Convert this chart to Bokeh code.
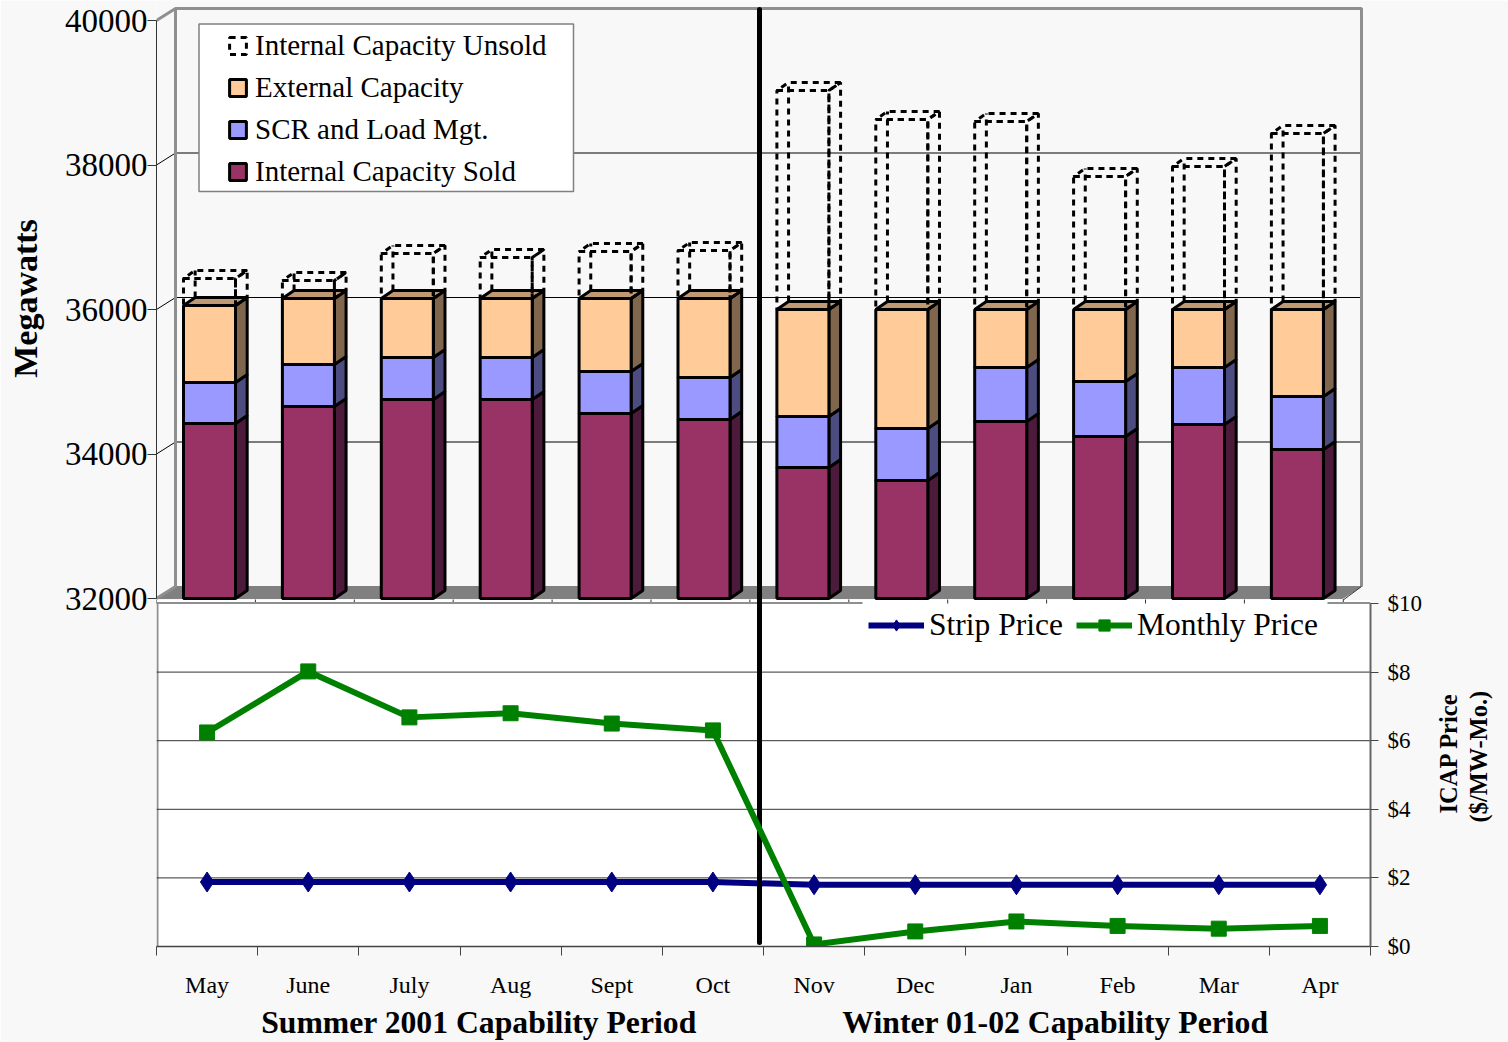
from math import pi

from bokeh.embed import file_html
from bokeh.resources import INLINE
from bokeh.plotting import figure
from bokeh.models import (BoxAnnotation, FixedTicker, Legend, LegendItem,
                          LinearAxis, Range1d)

# Monthly capacity, megawatts
months = ["May", "June", "July", "Aug", "Sept", "Oct", "Nov", "Dec", "Jan", "Feb", "Mar", "Apr"]
internal_sold = [34422, 34657, 34754, 34754, 34561, 34478, 33813, 33633, 34450, 34242, 34408, 34062]
scr_load_mgt = [567, 581, 581, 581, 581, 581, 706, 720, 747, 761, 789, 734]
external_cap = [1066, 913, 817, 817, 1010, 1093, 1481, 1647, 803, 997, 803, 1204]
internal_unsold = [374, 249, 623, 567, 651, 664, 3031, 2630, 2602, 1841, 1979, 2436]

# ICAP prices, $/MW-month
strip_price = [1.88, 1.88, 1.88, 1.88, 1.88, 1.88, 1.8, 1.8, 1.8, 1.8, 1.8, 1.8]
monthly_price = [6.24, 8.02, 6.68, 6.8, 6.5, 6.3, 0.06, 0.44, 0.73, 0.6, 0.52, 0.6]

mw_ticks = [32000, 34000, 36000, 38000, 40000]
price_ticks = [0, 2, 4, 6, 8, 10]

SERIF = "Liberation Serif"
PAGE = "#f8f8f8"
WALL = "#8f8f8f"
INK = "#000000"
LEFT, RIGHT, FLOOR = 156, 1370, 946


# Helpers converting canvas positions into the data units of each scale
def tx(px):
    return (px - 209) / 98.9


def ty(py):
    return 32000 + (598 - py) / 0.07225


def bx(px):
    return (px - LEFT) / ((RIGHT - LEFT) / 12)


def by(py):
    return (946 - py) / 34.3


# An axis with no line or tick marks, used to set bold text outside the frame
def text_axis(ticks_to_text, size, standoff, orientation=None, **axis_kw):
    axis = LinearAxis(ticker=FixedTicker(ticks=list(ticks_to_text)), **axis_kw)
    axis.major_label_overrides = dict(ticks_to_text)
    axis.axis_line_color = None
    axis.major_tick_line_color = None
    axis.minor_tick_line_color = None
    axis.major_tick_in = 0
    axis.major_tick_out = 0
    axis.minor_tick_in = 0
    axis.minor_tick_out = 0
    axis.major_label_standoff = standoff
    axis.major_label_text_font = SERIF
    axis.major_label_text_font_style = "bold"
    axis.major_label_text_font_size = size
    axis.major_label_text_color = INK
    if orientation is not None:
        axis.major_label_orientation = orientation
    return axis


p = figure(width=1508, height=1042, output_backend="svg", toolbar_location=None,
           x_range=Range1d(tx(LEFT), tx(RIGHT)), y_range=Range1d(ty(FLOOR), ty(0)),
           x_axis_type=None, y_axis_type=None,
           min_border_left=LEFT, min_border_right=1508 - RIGHT, min_border_top=0, min_border_bottom=1042 - FLOOR,
           background_fill_color=PAGE, border_fill_color=PAGE, outline_line_color=None)
p.grid.visible = False
p.extra_x_ranges["lower"] = Range1d(0, 12)
p.extra_y_ranges["price"] = Range1d(by(FLOOR), by(0))

left_axis = LinearAxis(ticker=FixedTicker(ticks=mw_ticks), bounds=(32000, 40000))
left_axis.axis_line_color = "#333333"
left_axis.major_tick_line_color = "#333333"
left_axis.major_tick_in = 0
left_axis.major_tick_out = 9
left_axis.minor_tick_line_color = None
left_axis.major_label_standoff = 0
left_axis.major_label_text_font = SERIF
left_axis.major_label_text_font_size = "33px"
left_axis.major_label_text_color = INK
left_axis.major_label_text_baseline = "middle"
p.add_layout(left_axis, "left")
p.add_layout(text_axis({ty(298): "Megawatts"}, "34px", 18, orientation="parallel"), "left")

# Walls and floor of the three-dimensional plot box
wall_dx = tx(175) - tx(156)
wall_dy = ty(586) - ty(598)
x0, x1 = tx(156), tx(1342)
p.patch([x0, x1, x1 + wall_dx, x0 + wall_dx], [32000, 32000, 32000 + wall_dy, 32000 + wall_dy],
        fill_color="#808080", line_color="#808080")
for m in mw_ticks[1:-1]:
    p.line([x0, x0 + wall_dx, x1 + wall_dx], [m, m + wall_dy, m + wall_dy], line_color=INK, line_width=1)
p.line([x0, x0 + wall_dx, x0 + wall_dx], [32000, 32000 + wall_dy, 40000 + wall_dy],
       line_color=WALL, line_width=3)
p.line([x0, x0 + wall_dx, x1 + wall_dx, x1 + wall_dx],
       [40000, 40000 + wall_dy, 40000 + wall_dy, 32000 + wall_dy], line_color=WALL, line_width=3)
p.line([x1, x1 + wall_dx], [ty(600), 32000 + wall_dy], line_color="#333333", line_width=1)

# White lower panel, with the band and tick marks that separate it from the columns
p.quad(left=tx(LEFT), right=tx(RIGHT), bottom=ty(FLOOR), top=ty(599.5), fill_color="#ffffff", line_color=None)
upper_ticks = [tx(LEFT + 98.9 * k) for k in range(13)]
p.segment(x0=upper_ticks, x1=upper_ticks, y0=ty(599), y1=ty(603), line_color="#333333", line_width=1)
p.line([tx(LEFT), tx(862)], [ty(602.5), ty(602.5)], line_color=WALL, line_width=2)
p.line([tx(1327), tx(RIGHT)], [ty(602.5), ty(602.5)], line_color=WALL, line_width=2)
p.line([tx(157), tx(157)], [ty(602), ty(FLOOR)], line_color=WALL, line_width=2)

# Stacked columns
half = 0.263
depth_x = 0.118
depth_y = ty(590) - ty(598)
edge = dict(line_color=INK, line_width=3)


def stack_faces(i, lo, hi):
    xl, xr = i - half, i + half
    side = ([xr, xr + depth_x, xr + depth_x, xr], [lo, lo + depth_y, hi + depth_y, hi])
    cap = ([xl, xr, xr + depth_x, xl + depth_x], [hi, hi, hi + depth_y, hi + depth_y])
    return xl, xr, side, cap


idx = list(range(len(months)))
bases = [32000] * len(months)
tops_sold = [v for v in internal_sold]
tops_scr = [a + b for a, b in zip(tops_sold, scr_load_mgt)]
tops_ext = [a + b for a, b in zip(tops_scr, external_cap)]
tops_unsold = [a + b for a, b in zip(tops_ext, internal_unsold)]

# Unsold capacity is outlined only, front and rear faces both visible
dash = dict(line_color=INK, line_width=3, line_dash="6 5")
rear_xs, rear_ys, side_xs, side_ys, cap_xs, cap_ys = [], [], [], [], [], []
for i, lo, hi in zip(idx, tops_ext, tops_unsold):
    xl, xr, side, cap = stack_faces(i, lo, hi)
    side_xs.append(side[0]); side_ys.append(side[1])
    cap_xs.append(cap[0]); cap_ys.append(cap[1])
    rear_xs.append([xl + depth_x, xl + depth_x]); rear_ys.append([lo + depth_y, hi + depth_y])
p.multi_line(rear_xs, rear_ys, **dash)

layers = [
    (bases, tops_sold, "#993366", "#4c1a3a"),
    (tops_sold, tops_scr, "#9999ff", "#4c4c80"),
    (tops_scr, tops_ext, "#ffcc99", "#80664c"),
]
front_renderers = []
for lows, highs, face, shade in layers:
    sides = [stack_faces(i, lo, hi)[2] for i, lo, hi in zip(idx, lows, highs)]
    p.patches([s[0] for s in sides], [s[1] for s in sides], fill_color=shade, **edge)
    r = p.quad(left=[i - half for i in idx], right=[i + half for i in idx], bottom=lows, top=highs,
               fill_color=face, **edge)
    front_renderers.append(r)
caps = [stack_faces(i, lo, hi)[3] for i, lo, hi in zip(idx, tops_scr, tops_ext)]
p.patches([c[0] for c in caps], [c[1] for c in caps], fill_color="#bf9973", **edge)

p.patches(side_xs, side_ys, fill_color=None, **dash)
p.patches(cap_xs, cap_ys, fill_color=None, **dash)
unsold_r = p.quad(left=[i - half for i in idx], right=[i + half for i in idx], bottom=tops_ext,
                  top=tops_unsold, fill_color=None, **dash)

# Boxed legend for the columns
p.add_layout(BoxAnnotation(left=tx(198.5), right=tx(573), top=ty(23.5), bottom=ty(191),
                           fill_color="#ffffff", fill_alpha=1, line_color="#808080", line_alpha=1,
                           line_width=1.5, level="annotation"))
top_legend = Legend(items=[LegendItem(label="Internal Capacity Unsold", renderers=[unsold_r]),
                           LegendItem(label="External Capacity", renderers=[front_renderers[2]]),
                           LegendItem(label="SCR and Load Mgt.", renderers=[front_renderers[1]]),
                           LegendItem(label="Internal Capacity Sold", renderers=[front_renderers[0]])],
                    location=(71, 758), margin=0, padding=6, spacing=9,
                    glyph_width=21, glyph_height=21, label_standoff=7,
                    label_text_font=SERIF, label_text_font_size="29px", label_text_color=INK,
                    background_fill_alpha=0, border_line_color=None)
p.add_layout(top_legend, "center")

# Lower panel axes
month_pos = [k + 0.5 for k in idx]
x_axis = LinearAxis(x_range_name="lower", ticker=FixedTicker(ticks=month_pos, minor_ticks=list(range(13))))
x_axis.major_label_overrides = {m: t for m, t in zip(month_pos, months)}
x_axis.major_tick_line_color = None
x_axis.axis_line_color = "#444444"
x_axis.axis_line_width = 1.5
x_axis.minor_tick_line_color = "#444444"
x_axis.minor_tick_in = 0
x_axis.minor_tick_out = 9
x_axis.major_label_standoff = 16
x_axis.major_label_text_font = SERIF
x_axis.major_label_text_font_size = "24px"
x_axis.major_label_text_color = INK
p.add_layout(x_axis, "below")
p.add_layout(text_axis({bx(478.5): "Summer 2001 Capability Period", bx(1055): "Winter 01-02 Capability Period"},
                       "31.7px", 4, x_range_name="lower"), "below")

price_axis = LinearAxis(y_range_name="price", ticker=FixedTicker(ticks=price_ticks), bounds=(0, 10))
price_axis.major_label_overrides = {t: f"${t}" for t in price_ticks}
price_axis.axis_line_color = "#666666"
price_axis.axis_line_width = 2
price_axis.major_tick_line_color = "#444444"
price_axis.major_tick_in = 0
price_axis.major_tick_out = 8
price_axis.minor_tick_line_color = None
price_axis.major_label_standoff = 9
price_axis.major_label_text_font = SERIF
price_axis.major_label_text_font_size = "23px"
price_axis.major_label_text_color = INK
p.add_layout(price_axis, "right")
p.add_layout(text_axis({by(813): "ICAP Price"}, "24.5px", 23, orientation=pi / 2, y_range_name="price"), "right")
p.add_layout(text_axis({by(822): "($/MW-Mo.)"}, "24.5px", 0, orientation=pi / 2, y_range_name="price"), "right")

lower = dict(x_range_name="lower", y_range_name="price")
p.segment(x0=0, x1=12, y0=price_ticks[1:-1], y1=price_ticks[1:-1], line_color="#333333", line_width=1, **lower)

strip_line = p.line(month_pos, strip_price, line_color="#000080", line_width=6, **lower)
strip_pts = p.scatter(month_pos, strip_price, marker="diamond", size=20, fill_color="#000080",
                      line_color="#000080", **lower)

# Boundary between the capability periods
p.line([tx(759), tx(759)], [ty(942), ty(9)], line_color=INK, line_width=5, line_cap="round")

monthly_line = p.line(month_pos, monthly_price, line_color="#008000", line_width=6, **lower)
monthly_pts = p.scatter(month_pos, monthly_price, marker="square", size=15, fill_color="#008000",
                        line_color="#008000", **lower)

line_legend = Legend(items=[LegendItem(label="Strip Price", renderers=[strip_line, strip_pts]),
                            LegendItem(label="Monthly Price", renderers=[monthly_line, monthly_pts])],
                     orientation="horizontal", location=(712, 303), margin=0, padding=4, spacing=13,
                     glyph_width=56, glyph_height=28, label_standoff=5,
                     label_text_font=SERIF, label_text_font_size="31.5px", label_text_color=INK,
                     background_fill_color="#ffffff", background_fill_alpha=1, border_line_color=None)
p.add_layout(line_legend, "center")

open("out.html", "w").write(file_html(p, INLINE))
